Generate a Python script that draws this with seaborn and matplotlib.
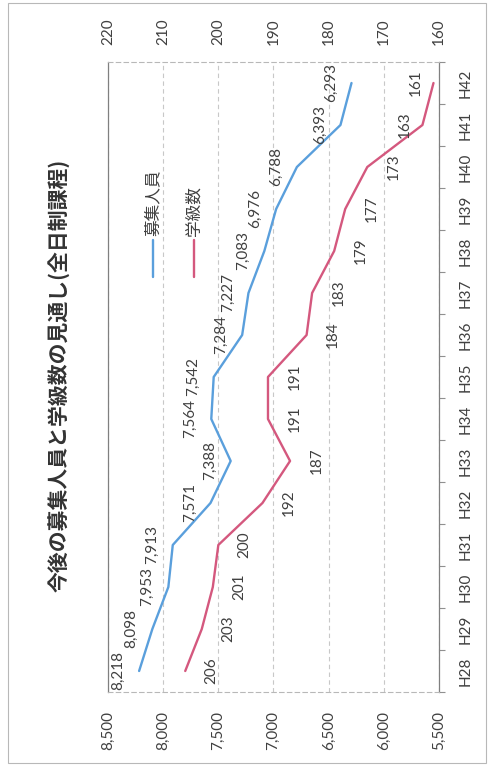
import matplotlib
matplotlib.use('Agg')
import matplotlib.pyplot as plt
import seaborn as sns
import pandas as pd
import numpy as np
from matplotlib.lines import Line2D
from matplotlib.patches import Rectangle

# ---- data ----
years = ['H28', 'H29', 'H30', 'H31', 'H32', 'H33', 'H34', 'H35',
         'H36', 'H37', 'H38', 'H39', 'H40', 'H41', 'H42']
recruits = [8218, 8098, 7953, 7913, 7571, 7388, 7564, 7542,
            7284, 7227, 7083, 6976, 6788, 6393, 6293]
classes = [206, 203, 201, 200, 192, 187, 191, 191,
           184, 183, 179, 177, 173, 163, 161]
recruit_ticks = [8500, 8000, 7500, 7000, 6500, 6000, 5500]
class_ticks = [220, 210, 200, 190, 180, 170, 160]
series_names = ['募集人員', '学級数']
title = '今後の募集人員と学級数の見通し(全日制課程)'

# label side for the 学級数 labels (+1 = right of line, -1 = left of line)
class_label_side = [1] * 13 + [-1, -1]

BLUE = '#5a9fdc'
PINK = '#d4587e'
TXT = '#404040'

sns.set_theme(style='white')
plt.rcParams['font.family'] = ['Lato', 'Noto Sans CJK JP', 'DejaVu Sans']

df = pd.DataFrame({'year': years, 'pos': np.arange(len(years)),
                   'recruits': recruits, 'classes': classes})

fig = plt.figure(figsize=(4.89, 7.66), dpi=100)
fig.patch.set_facecolor('white')
W, H = 489, 766
ax = fig.add_axes([108 / W, 74 / H, 331 / W, 630 / H])

sns.lineplot(data=df, x='recruits', y='pos', orient='y', sort=False,
             estimator=None, color=BLUE, lw=1.7, ax=ax)
ax.set_xlim(8500, 5500)
ax.set_ylim(-0.5, len(years) - 0.5)
ax.set_xlabel('')
ax.set_ylabel('')

ax2 = ax.twiny()
sns.lineplot(data=df, x='classes', y='pos', orient='y', sort=False,
             estimator=None, color=PINK, lw=1.7, ax=ax2)
ax2.set_xlim(220, 160)
ax2.set_ylim(-0.5, len(years) - 0.5)
ax2.set_xlabel('')
ax2.set_ylabel('')

# value axis (募集人員) at bottom
ax.set_xticks(recruit_ticks)
ax.set_xticklabels([f'{v:,}' for v in recruit_ticks])
ax.tick_params(axis='x', bottom=True, top=False, length=0, pad=14,
               labelrotation=90, labelsize=11, labelcolor=TXT)

# value axis (学級数) at top
ax2.set_xticks(class_ticks)
ax2.set_xticklabels([str(v) for v in class_ticks])
ax2.tick_params(axis='x', top=True, bottom=False, length=0, pad=12,
                labelrotation=90, labelsize=11, labelcolor=TXT)

# category axis on the right
ax.set_yticks(df['pos'])
ax.set_yticklabels(years)
ax.set_yticks(np.arange(-0.5, len(years), 1), minor=True)
ax.tick_params(axis='y', which='both', left=False, right=True,
               labelleft=False, labelright=True)
ax.tick_params(axis='y', which='major', length=0, pad=14,
               labelrotation=90, labelsize=11, labelcolor=TXT)
ax.tick_params(axis='y', which='minor', length=4, width=0.8,
               color='#909090', direction='out')
for lab in ax.get_yticklabels():
    lab.set_va('center')

# grid and spines
ax.grid(axis='x', color='#c8c8c8', linestyle=(0, (4, 3)), lw=0.8)
ax.grid(axis='y', visible=False)
ax.spines['left'].set_color('#808080')
ax.spines['left'].set_linewidth(0.9)
ax.spines['right'].set_color('#808080')
ax.spines['right'].set_linewidth(0.9)
for s in ['top', 'bottom']:
    ax.spines[s].set_color('#b8b8b8')
    ax.spines[s].set_linestyle((0, (4, 3)))
    ax.spines[s].set_linewidth(0.8)
for s in ax2.spines.values():
    s.set_visible(False)

# data labels
for i, v in enumerate(recruits):
    ax.annotate(f'{v:,}', (v, i), xytext=(-10, 0), textcoords='offset points',
                rotation=90, ha='right', va='center', fontsize=11, color=TXT)
for i, (c, side) in enumerate(zip(classes, class_label_side)):
    ax2.annotate(str(c), (c, i),
                 xytext=(14 if side > 0 else -8, 0), textcoords='offset points',
                 rotation=90, ha='left' if side > 0 else 'right', va='center',
                 fontsize=11, color=TXT)

# title
fig.text(60 / W, 1 - 375 / H, title, rotation=90, ha='center', va='center',
         fontsize=15, fontweight='bold', color='#333333',
         family=['Noto Sans CJK JP', 'DejaVu Sans'])

# legend (drawn rotated, like the chart)
for name, color, xc in zip(series_names, [BLUE, PINK], [153, 194]):
    fig.add_artist(Line2D([xc / W, xc / W], [1 - 240 / H, 1 - 277 / H],
                          transform=fig.transFigure, color=color, lw=1.7))
    fig.text(xc / W, 1 - 236 / H, name, rotation=90, ha='center', va='bottom',
             fontsize=12, color=TXT, family=['Noto Sans CJK JP', 'DejaVu Sans'])

# outer chart border
fig.add_artist(Rectangle((8 / W, 3 / H), 478 / W, 760 / H,
                         transform=fig.transFigure, fill=False,
                         edgecolor='#b8b8b8', lw=0.8))

fig.savefig('out.png', dpi=100, facecolor='white')
